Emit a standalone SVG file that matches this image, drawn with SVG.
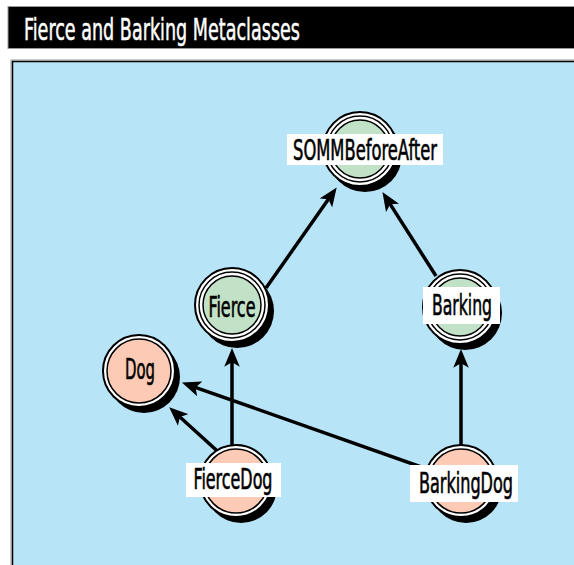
<svg xmlns="http://www.w3.org/2000/svg" width="574" height="565" viewBox="0 0 574 565">
<defs>
<style>
.lbl{font-family:"Liberation Sans Narrow","DejaVu Sans Condensed","Liberation Sans",sans-serif;font-size:28px;fill:#000;stroke:#000;stroke-width:0.6;text-anchor:middle}
.box{fill:#fff}
.shadow{fill:#000}
.outer{fill:#fff;stroke:#000;stroke-width:2}
.ring{fill:none;stroke:#000;stroke-width:1.5}
.green{fill:#c2e2c8;stroke:#000;stroke-width:1.5}
.pink{fill:#fdcab5;stroke:#000;stroke-width:1.5}
.edge{stroke:#000;stroke-width:3.5;fill:none;marker-end:url(#ah)}
</style>
<marker id="ah" markerUnits="userSpaceOnUse" markerWidth="20" markerHeight="16" viewBox="0 0 18 14" refX="7" refY="7" orient="auto">
<path d="M0,0 L17,7 L0,14 L4,7 Z" fill="#000"/>
</marker>
</defs>
<rect x="0" y="0" width="574" height="565" fill="#fff"/>
<rect x="8" y="6.5" width="570" height="42" fill="#000" stroke="#999" stroke-width="1"/>
<text x="24" y="40" font-family="Liberation Sans Narrow,'DejaVu Sans Condensed','Liberation Sans',sans-serif" font-size="30" fill="#fff" stroke="#fff" stroke-width="0.5" textLength="276" lengthAdjust="spacingAndGlyphs">Fierce and Barking Metaclasses</text>
<rect x="11" y="60" width="570" height="510" fill="none" stroke="#999" stroke-width="1"/>
<rect x="12.5" y="61.5" width="570" height="510" fill="#b8e4f8" stroke="#000" stroke-width="1.5"/>

<g id="connectors">
<line class="edge" x1="266" y1="288" x2="330.3" y2="196.6"/>
<line class="edge" x1="436" y1="276" x2="388.4" y2="201.4"/>
<line class="edge" x1="232" y1="445" x2="232" y2="359"/>
<line class="edge" x1="461" y1="445" x2="461" y2="360"/>
<line class="edge" x1="225" y1="458" x2="177.4" y2="414.7"/>
<line class="edge" x1="461" y1="481" x2="192.4" y2="386.3"/>
</g>

<g id="SOMMBeforeAfter">
<circle class="shadow" cx="365" cy="155" r="37"/>
<circle class="outer" cx="360" cy="149" r="37"/>
<circle class="ring" cx="360" cy="149" r="33"/>
<circle class="green" cx="360" cy="149" r="29"/>
<rect class="box" x="287" y="134" width="156" height="31"/>
<text class="lbl" x="365" y="160" textLength="144" lengthAdjust="spacingAndGlyphs">SOMMBeforeAfter</text>
</g>

<g id="Fierce">
<circle class="shadow" cx="237" cy="311" r="37"/>
<circle class="outer" cx="232" cy="305" r="37"/>
<circle class="ring" cx="232" cy="305" r="33"/>
<circle class="green" cx="232" cy="305" r="29"/>
<text class="lbl" x="232" y="317" textLength="47" lengthAdjust="spacingAndGlyphs">Fierce</text>
</g>

<g id="Barking">
<circle class="shadow" cx="465" cy="313" r="37"/>
<circle class="outer" cx="460" cy="307" r="37"/>
<circle class="ring" cx="460" cy="307" r="33"/>
<circle class="green" cx="460" cy="307" r="29"/>
<rect class="box" x="423" y="287" width="77" height="37"/>
<text class="lbl" x="462" y="315" textLength="60" lengthAdjust="spacingAndGlyphs">Barking</text>
</g>

<g id="Dog">
<circle class="shadow" cx="144" cy="377" r="36"/>
<circle class="outer" cx="139" cy="371" r="36"/>
<circle class="pink" cx="139" cy="371" r="32"/>
<text class="lbl" x="140" y="379" textLength="30" lengthAdjust="spacingAndGlyphs">Dog</text>
</g>

<g id="FierceDog">
<circle class="shadow" cx="241" cy="487" r="36"/>
<circle class="outer" cx="236" cy="481" r="36"/>
<circle class="pink" cx="236" cy="481" r="32"/>
<rect class="box" x="186" y="463" width="95" height="34"/>
<text class="lbl" x="233" y="489" textLength="79" lengthAdjust="spacingAndGlyphs">FierceDog</text>
</g>

<g id="BarkingDog">
<circle class="shadow" cx="466" cy="487" r="36"/>
<circle class="outer" cx="461" cy="481" r="36"/>
<circle class="pink" cx="461" cy="481" r="32"/>
<rect class="box" x="410" y="465" width="108" height="37"/>
<text class="lbl" x="466" y="493" textLength="94" lengthAdjust="spacingAndGlyphs">BarkingDog</text>
</g>
</svg>
